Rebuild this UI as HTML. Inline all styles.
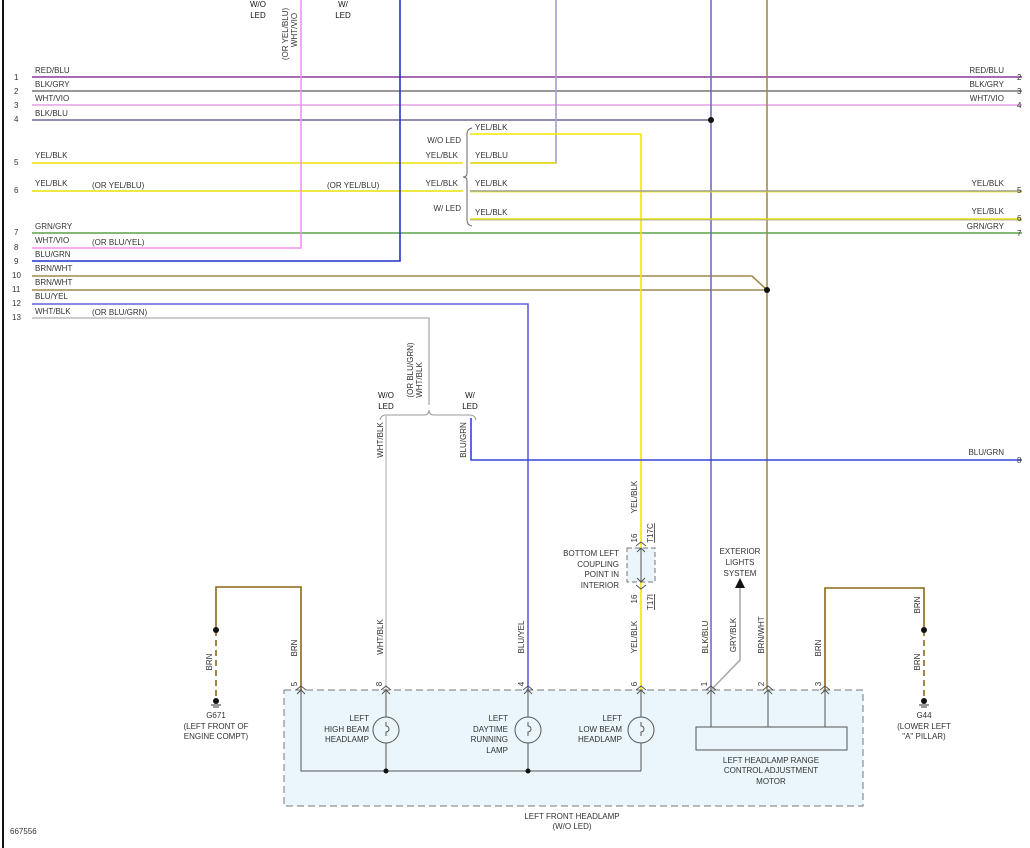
<!DOCTYPE html>
<html><head><meta charset="utf-8"><style>
html,body{margin:0;padding:0;background:#fff}
svg{display:block}
text{font-family:"Liberation Sans",sans-serif;font-size:8px;fill:#333}
.b{fill:#111}
</style></head><body>
<svg width="1030" height="848" viewBox="0 0 1030 848" xmlns="http://www.w3.org/2000/svg">
<line x1="3" y1="0" x2="3" y2="848" stroke="#111" stroke-width="2"/>
<!-- horizontal wires -->
<g stroke-width="1.6" fill="none">
<line x1="32" y1="77" x2="1022" y2="77" stroke="#8a3a9a"/>
<line x1="32" y1="91" x2="1022" y2="91" stroke="#777"/>
<line x1="32" y1="105" x2="1022" y2="105" stroke="#e6a0e6"/>
<line x1="32" y1="120" x2="711" y2="120" stroke="#6a6a90"/>
<line x1="32" y1="163" x2="463" y2="163" stroke="#e8e000"/>
<line x1="32" y1="191" x2="463" y2="191" stroke="#e8e000"/>
<line x1="32" y1="233" x2="1022" y2="233" stroke="#5aa04a"/>
<polyline points="32,248 301,248 301,0" stroke="#f090f0"/>
<polyline points="32,261 400,261 400,0" stroke="#2233cc"/>
<polyline points="32,276 752,276 767,290" stroke="#a08a50"/>
<line x1="32" y1="290" x2="767" y2="290" stroke="#a08a50"/>
<polyline points="32,304 528,304 528,690" stroke="#6060dd"/>
<polyline points="32,318 429,318 429,405" stroke="#bbb"/>
<polyline points="556,0 556,163 470,163" stroke="#aaa0cc"/>
<line x1="470" y1="163" x2="556" y2="163" stroke="#e8e000"/>
<line x1="711" y1="0" x2="711" y2="690" stroke="#7070c0"/>
<line x1="767" y1="0" x2="767" y2="690" stroke="#a08a50"/>
<polyline points="470,134 641,134 641,690" stroke="#f0e800"/>
<line x1="470" y1="191" x2="1022" y2="191" stroke="#999"/>
<line x1="470" y1="192" x2="1022" y2="192" stroke="#e8e000" stroke-width="0.8"/>
<line x1="470" y1="219" x2="1022" y2="219" stroke="#e8e000"/>
<line x1="470" y1="220" x2="1022" y2="220" stroke="#999" stroke-width="0.8"/>
<polyline points="471,418 471,460 1022,460" stroke="#3344dd"/>
<polyline points="386,690 386,416" stroke="#ccc"/>
<!-- ground wires -->
<polyline points="301,690 301,587 216,587 216,630" stroke="#8b6914"/>
<line x1="216" y1="630" x2="216" y2="700" stroke="#8b6914" stroke-dasharray="6,4"/>
<polyline points="825,690 825,588 924,588 924,630" stroke="#8b6914"/>
<line x1="924" y1="630" x2="924" y2="700" stroke="#8b6914" stroke-dasharray="6,4"/>
<polyline points="711,690 740,660 740,585" stroke="#aaa"/>
</g>
<polygon points="740,578 735,588 745,588" fill="#111"/>
<!-- braces -->
<path d="M472,128 Q467,129 467,134 L467,173 Q467,177 463,177 Q467,177 467,181 L467,220 Q467,225 472,226" fill="none" stroke="#666"/>
<path d="M380,420 Q381,415 386,415 L424,415 Q429,415 429,410 Q429,415 434,415 L470,415 Q475,415 476,420" fill="none" stroke="#999"/>
<!-- dots -->
<circle cx="711" cy="120" r="3" class="b"/><circle cx="767" cy="290" r="3" class="b"/>
<circle cx="216" cy="630" r="3" class="b"/><circle cx="924" cy="630" r="3" class="b"/>
<circle cx="216" cy="701" r="3" class="b"/><circle cx="924" cy="701" r="3" class="b"/>
<g stroke="#333"><line x1="211" y1="705" x2="221" y2="705"/><line x1="213" y1="707" x2="219" y2="707"/><line x1="919" y1="705" x2="929" y2="705"/><line x1="921" y1="707" x2="927" y2="707"/></g>
<!-- headlamp box -->
<rect x="284" y="690" width="579" height="116" fill="#eaf6fb" stroke="#777" stroke-dasharray="7,4"/>
<g stroke="#555" fill="none">
<polyline points="301,690 301,771 641,771"/>
<line x1="386" y1="690" x2="386" y2="771"/><line x1="528" y1="690" x2="528" y2="771"/><line x1="641" y1="690" x2="641" y2="771"/>
<line x1="711" y1="690" x2="711" y2="727"/><line x1="768" y1="690" x2="768" y2="727"/><line x1="825" y1="690" x2="825" y2="727"/>
<rect x="696" y="727" width="151" height="23"/>
<circle cx="386" cy="730" r="13" fill="#eaf6fb"/><circle cx="528" cy="730" r="13" fill="#eaf6fb"/><circle cx="641" cy="730" r="13" fill="#eaf6fb"/>
<path d="M386,722 v4 a3,3 0 0 1 0,6 v4"/><path d="M528,722 v4 a3,3 0 0 1 0,6 v4"/><path d="M641,722 v4 a3,3 0 0 1 0,6 v4"/>
<path d="M296,690 l5,-4 l5,4 M381,690 l5,-4 l5,4 M523,690 l5,-4 l5,4 M636,690 l5,-4 l5,4 M706,690 l5,-4 l5,4 M763,690 l5,-4 l5,4 M820,690 l5,-4 l5,4"/>
<path d="M297,694 l4,-4 l4,4 M382,694 l4,-4 l4,4 M524,694 l4,-4 l4,4 M637,694 l4,-4 l4,4 M707,694 l4,-4 l4,4 M764,694 l4,-4 l4,4 M821,694 l4,-4 l4,4"/>
</g>
<circle cx="386" cy="771" r="2.5" class="b"/><circle cx="528" cy="771" r="2.5" class="b"/>
<!-- coupling -->
<rect x="627" y="548" width="28" height="34" fill="#eaf6fb" stroke="#777" stroke-dasharray="5,3"/>
<g stroke="#555" fill="none"><line x1="641" y1="548" x2="641" y2="582"/><path d="M637,552 l4,-4 l4,4 M637,578 l4,4 l4,-4 M636,546 l5,-4 l5,4 M636,585 l5,4 l5,-4"/></g>
<!-- left labels -->
<g>
<text x="35" y="73">RED/BLU</text><text x="35" y="87">BLK/GRY</text><text x="35" y="101">WHT/VIO</text><text x="35" y="116">BLK/BLU</text>
<text x="35" y="158">YEL/BLK</text><text x="35" y="186">YEL/BLK</text><text x="92" y="188">(OR YEL/BLU)</text><text x="327" y="188">(OR YEL/BLU)</text>
<text x="35" y="229">GRN/GRY</text><text x="35" y="243">WHT/VIO</text><text x="92" y="245">(OR BLU/YEL)</text><text x="35" y="257">BLU/GRN</text>
<text x="35" y="271">BRN/WHT</text><text x="35" y="285">BRN/WHT</text><text x="35" y="299">BLU/YEL</text><text x="35" y="314">WHT/BLK</text><text x="92" y="315">(OR BLU/GRN)</text>
<text x="14" y="80">1</text><text x="14" y="94">2</text><text x="14" y="108">3</text><text x="14" y="122">4</text><text x="14" y="165">5</text><text x="14" y="193">6</text><text x="14" y="235">7</text><text x="14" y="250">8</text><text x="14" y="264">9</text><text x="12" y="278">10</text><text x="12" y="292">11</text><text x="12" y="306">12</text><text x="12" y="320">13</text>
</g>
<g text-anchor="end">
<text x="1004" y="73">RED/BLU</text><text x="1004" y="87">BLK/GRY</text><text x="1004" y="101">WHT/VIO</text>
<text x="1004" y="186">YEL/BLK</text><text x="1004" y="214">YEL/BLK</text><text x="1004" y="229">GRN/GRY</text><text x="1004" y="455">BLU/GRN</text>
<text x="461" y="143">W/O LED</text><text x="458" y="158">YEL/BLK</text><text x="458" y="186">YEL/BLK</text><text x="461" y="211">W/ LED</text>
<text x="619" y="556">BOTTOM LEFT</text><text x="619" y="567">COUPLING</text><text x="619" y="577">POINT IN</text><text x="619" y="588">INTERIOR</text>
<text x="369" y="721">LEFT</text><text x="369" y="732">HIGH BEAM</text><text x="369" y="742">HEADLAMP</text>
<text x="508" y="721">LEFT</text><text x="508" y="732">DAYTIME</text><text x="508" y="742">RUNNING</text><text x="508" y="753">LAMP</text>
<text x="622" y="721">LEFT</text><text x="622" y="732">LOW BEAM</text><text x="622" y="742">HEADLAMP</text>
</g>
<g><text x="1017" y="80">2</text><text x="1017" y="94">3</text><text x="1017" y="108">4</text><text x="1017" y="193">5</text><text x="1017" y="221">6</text><text x="1017" y="236">7</text><text x="1017" y="463">8</text>
<text x="475" y="130">YEL/BLK</text><text x="475" y="158">YEL/BLU</text><text x="475" y="186">YEL/BLK</text><text x="475" y="215">YEL/BLK</text>
<text x="10" y="834">667556</text></g>
<g text-anchor="middle">
<text x="258" y="7" class="b">W/O</text><text x="258" y="18" class="b">LED</text><text x="343" y="7" class="b">W/</text><text x="343" y="18" class="b">LED</text>
<text x="386" y="398" class="b">W/O</text><text x="386" y="409" class="b">LED</text><text x="470" y="398" class="b">W/</text><text x="470" y="409" class="b">LED</text>
<text x="740" y="554">EXTERIOR</text><text x="740" y="565">LIGHTS</text><text x="740" y="576">SYSTEM</text>
<text x="216" y="718">G671</text><text x="216" y="729">(LEFT FRONT OF</text><text x="216" y="739">ENGINE COMPT)</text>
<text x="924" y="718">G44</text><text x="924" y="729">(LOWER LEFT</text><text x="924" y="739">"A" PILLAR)</text>
<text x="771" y="763">LEFT HEADLAMP RANGE</text><text x="771" y="773">CONTROL ADJUSTMENT</text><text x="771" y="784">MOTOR</text>
<text x="572" y="819">LEFT FRONT HEADLAMP</text><text x="572" y="829">(W/O LED)</text>
</g>
<!-- rotated labels -->
<g text-anchor="middle">
<text transform="translate(288,34) rotate(-90)">(OR YEL/BLU)</text><text transform="translate(297,30) rotate(-90)">WHT/VIO</text>
<text transform="translate(413,370) rotate(-90)">(OR BLU/GRN)</text><text transform="translate(422,380) rotate(-90)">WHT/BLK</text>
<text transform="translate(383,440) rotate(-90)">WHT/BLK</text><text transform="translate(466,440) rotate(-90)">BLU/GRN</text>
<text transform="translate(637,497) rotate(-90)">YEL/BLK</text>
<text transform="translate(637,538) rotate(-90)">16</text><text transform="translate(637,599) rotate(-90)">16</text>
<text transform="translate(653,533) rotate(-90)" style="text-decoration:underline">T17C</text><text transform="translate(653,602) rotate(-90)" style="text-decoration:underline">T17I</text>
<text transform="translate(297,648) rotate(-90)">BRN</text><text transform="translate(383,637) rotate(-90)">WHT/BLK</text>
<text transform="translate(524,637) rotate(-90)">BLU/YEL</text><text transform="translate(637,637) rotate(-90)">YEL/BLK</text>
<text transform="translate(708,637) rotate(-90)">BLK/BLU</text><text transform="translate(736,635) rotate(-90)">GRY/BLK</text>
<text transform="translate(764,635) rotate(-90)">BRN/WHT</text><text transform="translate(821,648) rotate(-90)">BRN</text>
<text transform="translate(212,662) rotate(-90)">BRN</text><text transform="translate(920,605) rotate(-90)">BRN</text><text transform="translate(920,662) rotate(-90)">BRN</text>
<text transform="translate(297,684) rotate(-90)">5</text><text transform="translate(382,684) rotate(-90)">8</text><text transform="translate(524,684) rotate(-90)">4</text><text transform="translate(637,684) rotate(-90)">6</text><text transform="translate(707,684) rotate(-90)">1</text><text transform="translate(764,684) rotate(-90)">2</text><text transform="translate(821,684) rotate(-90)">3</text>
</g>
</svg>
</body></html>
